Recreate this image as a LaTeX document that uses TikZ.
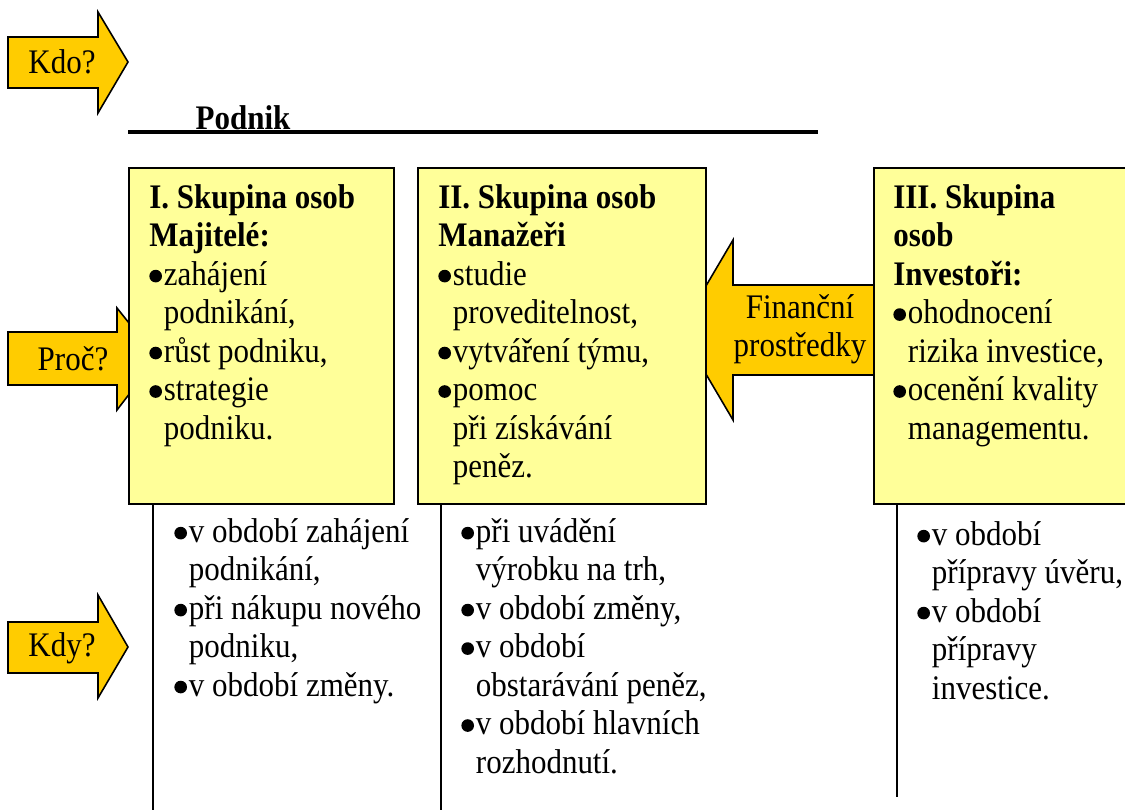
\documentclass[tikz,border=0pt]{standalone}
\usepackage{fontspec}
\setmainfont{Liberation Serif}[FakeStretch=0.9]
\usepackage{tikz}
\usetikzlibrary{calc, positioning}

\definecolor{zluta}{HTML}{FFFF99}
\definecolor{zlata}{HTML}{FFCC00}
\newcommand{\bod}{\makebox[8.3pt][l]{\tikz[baseline=0pt]\fill (4.1pt,5.2pt) circle (3.6pt);}}
\newcommand{\odsaz}{\makebox[8.3pt]{}}

\begin{document}
\begin{tikzpicture}[x=0.02cm, y=-0.02cm,
        every node/.style={font=\fontsize{19.6}{21.9}\selectfont, inner sep=0pt},
        skupina/.style={draw, fill=zluta, line width=0.9pt, anchor=north west, minimum height=6.72cm},
        sipka/.style={draw, fill=zlata, line width=0.9pt, line join=miter},
        popis/.style={anchor=north west, align=left}]
        \useasboundingbox (0,0) rectangle (1125,810);
        \clip (0,0) rectangle (1125,810);

        % sipky (pod skupinami)
        \draw[sipka] (8,37) -- (98,37) -- (98,12) -- (128,62) -- (98,113) -- (98,88) -- (8,88) -- cycle;
        \draw[sipka] (8,332) -- (117,332) -- (117,308) -- (157,358) -- (117,410) -- (117,385) -- (8,385) -- cycle;
        \draw[sipka] (8,622) -- (98,622) -- (98,595) -- (128,647) -- (98,698) -- (98,673) -- (8,673) -- cycle;
        \draw[sipka] (890,285) -- (733,285) -- (733,240) -- (680,330) -- (733,420) -- (733,375) -- (890,375) -- cycle;

        \node (kdo) at (62,62) {Kdo?};
        \node (proc) at (73,359) {Proč?};
        \node (kdy) at (62,648) {Kdy?};

        % podnik
        \node[font=\fontsize{19.6}{21.9}\selectfont\bfseries] (podnik) at (243,118) {Podnik};
        \draw[line width=1.8pt] (128,132) -- (818,132);

        % skupiny osob
        \node[skupina, minimum width=5.3cm] (skup1) at (128,167) {};
        \node[skupina, minimum width=5.76cm] (skup2) at (417,167) {};
        \node[skupina, minimum width=5.4cm] (skup3) at (873,167) {};

        \node (financni) at (800,329) [align=center] {Finanční\\prostředky};

        \node[popis] (text1) at (149,181) {\strut\textbf{I. Skupina osob}\\\textbf{Majitelé:}\\
            \bod zahájení\\\odsaz podnikání,\\\bod růst podniku,\\\bod strategie\\\odsaz podniku.};
        \node[popis] (text2) at (438,181) {\strut\textbf{II. Skupina osob}\\\textbf{Manažeři}\\
            \bod studie\\\odsaz proveditelnost,\\\bod vytváření týmu,\\\bod pomoc\\\odsaz při získávání\\\odsaz peněz.};
        \node[popis] (text3) at (893,181) {\strut\textbf{III. Skupina}\\\textbf{osob}\\\textbf{Investoři:}\\
            \bod ohodnocení\\\odsaz rizika investice,\\\bod ocenění kvality\\\odsaz managementu.};

        % kdy
        \draw[line width=0.9pt] ([xshift=0.5cm]skup1.south west) -- ++(0,310);
        \draw[line width=0.9pt] ([xshift=0.48cm]skup2.south west) -- ++(0,310);
        \draw[line width=0.9pt] ([xshift=0.48cm]skup3.south west) -- ++(0,292);

        \node[popis] (kdy1) at (174,515) {\strut\bod v období zahájení\\\odsaz podnikání,\\\bod při nákupu nového\\\odsaz podniku,\\\bod v období změny.};
        \node[popis] (kdy2) at (461,515) {\strut\bod při uvádění\\\odsaz výrobku na trh,\\\bod v období změny,\\\bod v období\\\odsaz obstarávání peněz,\\\bod v období hlavních\\\odsaz rozhodnutí.};
        \node[popis] (kdy3) at (917,518) {\strut\bod v období\\\odsaz přípravy úvěru,\\\bod v období\\\odsaz přípravy\\\odsaz investice.};
    \end{tikzpicture}
\end{document}
